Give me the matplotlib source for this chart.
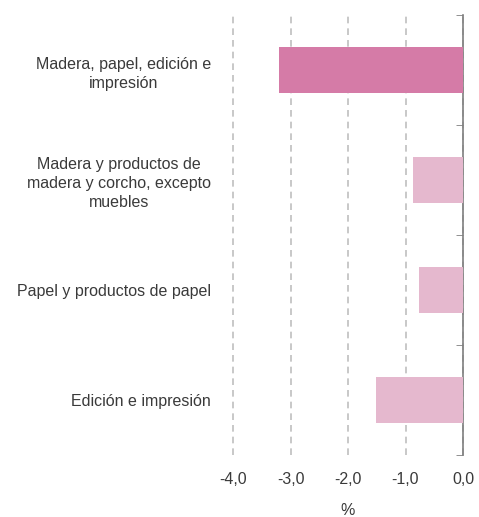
import matplotlib.pyplot as plt
import numpy as np

categories = ['Madera, papel, edición e\nimpresión',
              'Madera y productos de\nmadera y corcho, excepto\nmuebles',
              'Papel y productos de papel',
              'Edición e impresión']
values = [-3.2, -0.87, -0.77, -1.51]
colors = ['#D57BA7', '#E5B8CE', '#E5B8CE', '#E5B8CE']
xticks = [-4.0, -3.0, -2.0, -1.0, 0.0]
xticklabels = ['-4,0', '-3,0', '-2,0', '-1,0', '0,0']

plt.rcParams['font.family'] = ['Liberation Sans', 'DejaVu Sans']

fig = plt.figure(figsize=(4.79, 5.17), dpi=100)
ax = fig.add_axes([233/479, 1-455/517, 230/479, 440/517])

y = np.arange(len(categories))
ax.barh(y, values, height=0.41, color=colors, zorder=3)

ax.set_xlim(-4.0, 0.0)
ax.set_ylim(len(categories)-0.5, -0.5)
ax.set_xticks(xticks)
ax.set_xticklabels(xticklabels, fontsize=11.5, color='#3a3a3a')
ax.set_xlabel('%', fontsize=11.5, color='#3a3a3a', labelpad=12)

ax.set_yticks(y)
ax.set_yticklabels(categories, fontsize=11.5, color='#3a3a3a', ha='right',
                   multialignment='center', linespacing=1.35)
ax.set_yticks(np.arange(len(categories)+1)-0.5, minor=True)
ax.tick_params(axis='y', which='major', length=0, pad=16)
ax.tick_params(axis='y', which='minor', left=False, right=True, direction='in', length=5, color='#7f7f7f')
ax.tick_params(axis='x', length=0, pad=12)

for s in ['top', 'bottom', 'left']:
    ax.spines[s].set_visible(False)
ax.spines['right'].set_color('#7f7f7f')
ax.spines['right'].set_linewidth(1.2)

ax.grid(True, axis='x', linestyle=(0, (4, 3)), color='#bfbfbf', linewidth=1.2, zorder=0)
for gl in ax.get_xgridlines():
    gl.set_clip_on(False)

fig.savefig('out.png', dpi=100)
